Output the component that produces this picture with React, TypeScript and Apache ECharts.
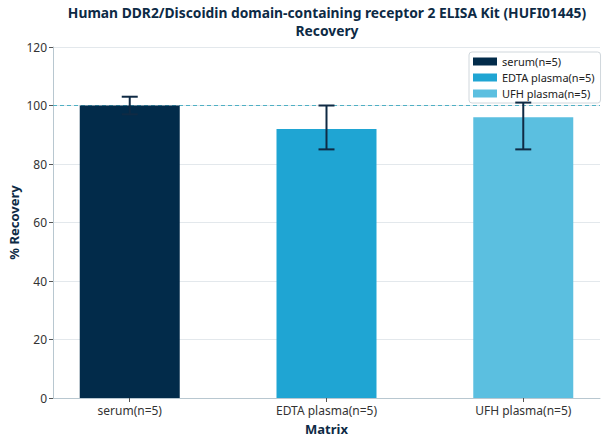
import React, { useEffect, useRef } from "react";
import * as echarts from "echarts";

const categories = ["serum(n=5)", "EDTA plasma(n=5)", "UFH plasma(n=5)"];
const recovery = [100, 92, 96];
const errLow = [97, 85, 85];
const errHigh = [103, 100, 101];
const colors = ["#022b4a", "#1fa5d3", "#5bbfe0"];
const yTicks = [0, 20, 40, 60, 80, 100, 120];
const referenceLine = 100;

export default function App() {
  const ref = useRef<HTMLDivElement>(null);
  useEffect(() => {
    document.body.style.margin = "0";
    const chart = echarts.init(ref.current!, null, { renderer: "svg" });
    const font = "Noto Sans";
    const barSeries: any[] = categories.map((name, i) => ({
      name,
      type: "bar",
      data: [[i, recovery[i]]],
      barWidth: 100,
      barGap: "-100%",
      itemStyle: { color: colors[i] },
      z: 2,
      ...(i === 0
        ? {
            markLine: {
              silent: true,
              symbol: "none",
              label: { show: false },
              lineStyle: { type: [4, 3], color: "#4fb0c4", width: 1 },
              data: [{ yAxis: referenceLine }],
              z: 1,
            },
          }
        : {}),
    }));
    const errSeries = {
      type: "custom",
      name: "error",
      z: 5,
      data: categories.map((_, i) => [i, errLow[i], errHigh[i]]),
      renderItem: (params: any, api: any) => {
        const x = api.value(0);
        const lo = api.coord([x, api.value(1)]);
        const hi = api.coord([x, api.value(2)]);
        const hw = 8;
        const style = { stroke: "#0f2a44", lineWidth: 2 };
        return {
          type: "group",
          children: [
            { type: "line", shape: { x1: lo[0], y1: lo[1], x2: hi[0], y2: hi[1] }, style },
            { type: "line", shape: { x1: hi[0] - hw, y1: hi[1], x2: hi[0] + hw, y2: hi[1] }, style },
            { type: "line", shape: { x1: lo[0] - hw, y1: lo[1], x2: lo[0] + hw, y2: lo[1] }, style },
          ],
        };
      },
    };
    chart.setOption({
      animation: false,
      textStyle: { fontFamily: font },
      title: {
        text: "Human DDR2/Discoidin domain-containing receptor 2 ELISA Kit (HUFI01445)\nRecovery",
        left: 322,
        textAlign: "center",
        top: -1,
        textStyle: {
          fontFamily: font,
          fontSize: 13.8,
          fontWeight: "bold",
          color: "#0d2a45",
          lineHeight: 17.5,
        },
      },
      legend: {
        data: categories,
        orient: "vertical",
        left: 469,
        top: 52,
        icon: "rect",
        itemWidth: 24,
        itemHeight: 8,
        itemGap: 5,
        padding: [4, 6, 4, 4],
        backgroundColor: "#ffffff",
        borderColor: "#d0d7dc",
        borderWidth: 1,
        borderRadius: 3,
        textStyle: { fontFamily: font, fontSize: 11, color: "#222" },
      },
      grid: { left: 53, right: 8, top: 47, bottom: 46, containLabel: false, outerBoundsMode: "none" },
      xAxis: {
        type: "value",
        min: -0.39,
        max: 2.39,
        name: "Matrix",
        nameLocation: "middle",
        nameGap: 24,
        nameMoveOverlap: false,
        nameTextStyle: { fontFamily: font, fontSize: 13, fontWeight: "bold", color: "#0d2a45" },
        splitLine: { show: false },
        axisLine: { show: true, onZero: false, lineStyle: { color: "#b8c7d0" } },
        axisTick: { show: true, customValues: [0, 1, 2], length: 4, lineStyle: { color: "#555" } },
        axisLabel: {
          customValues: [0, 1, 2],
          formatter: (v: number) => categories[Math.round(v)] ?? "",
          fontSize: 12,
          color: "#333",
          margin: 6,
        },
      },
      yAxis: {
        type: "value",
        min: 0,
        max: 120,
        interval: 20,
        name: "% Recovery",
        nameLocation: "middle",
        nameGap: 33,
        nameMoveOverlap: false,
        nameTextStyle: { fontFamily: font, fontSize: 13, fontWeight: "bold", color: "#0d2a45" },
        axisLine: { show: true, onZero: false, lineStyle: { color: "#b8c7d0" } },
        axisTick: { show: true, length: 4, lineStyle: { color: "#555" } },
        splitLine: { show: true, lineStyle: { color: "#e3e8ec" } },
        axisLabel: {
          fontSize: 12,
          color: "#333",
          margin: 6,
          customValues: yTicks,
        },
      },
      series: [...barSeries, errSeries],
    });
    return () => chart.dispose();
  }, []);
  return <div ref={ref} style={{ width: 608, height: 444 }} />;
}
